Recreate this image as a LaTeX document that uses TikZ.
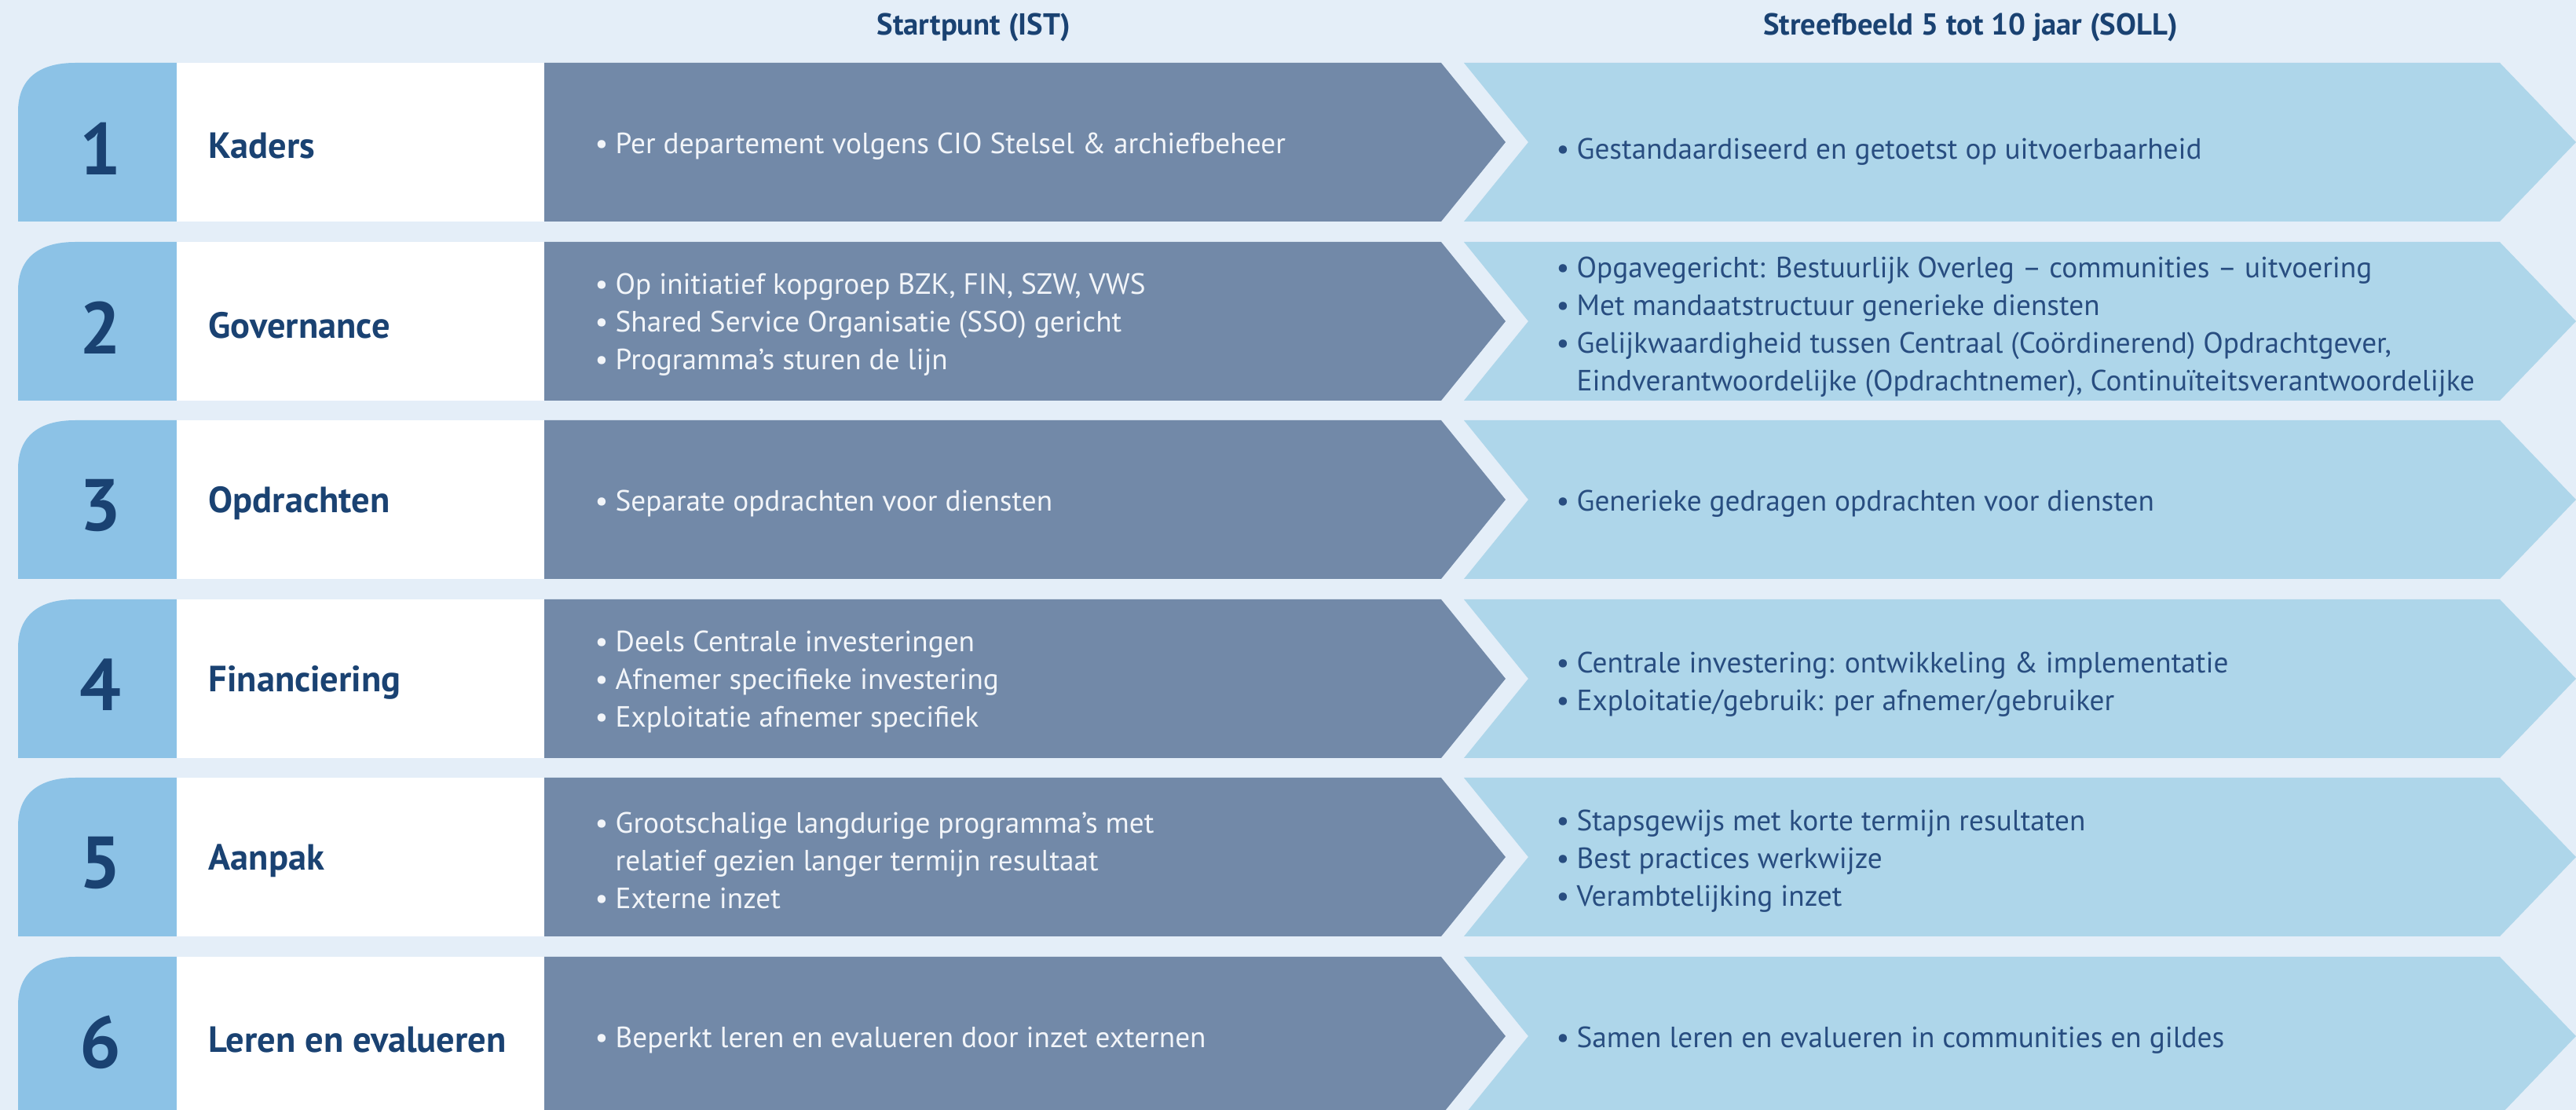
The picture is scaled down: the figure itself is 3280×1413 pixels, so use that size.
\documentclass[tikz,border=0pt]{standalone}
\usepackage{fontspec}
\setmainfont{PT Sans}
\definecolor{pagebg}{HTML}{E4EEF8}
\definecolor{tabblue}{HTML}{8CC2E6}
\definecolor{istblue}{HTML}{7289A8}
\definecolor{sollblue}{HTML}{AED6EA}
\definecolor{navytext}{HTML}{1A4272}
\definecolor{solltxt}{HTML}{284D80}
\definecolor{isttxt}{HTML}{F2F5F9}
\newcommand{\bul}{\makebox[0.26cm][l]{\textbullet}}
\newcommand{\nobul}{\hspace*{0.26cm}}

\begin{document}
\begin{tikzpicture}[x=0.01cm,y=-0.01cm,
    numtext/.style={font=\bfseries\fontsize{26.5}{30}\selectfont,text=navytext},
    labeltext/.style={anchor=west,inner sep=0pt,font=\bfseries\fontsize{13.2}{16}\selectfont,text=navytext},
    isttext/.style={anchor=west,align=left,inner sep=0pt,font=\fontsize{10.6}{13.66}\selectfont,text=isttxt},
    solltext/.style={anchor=west,align=left,inner sep=0pt,font=\fontsize{10.6}{13.66}\selectfont,text=solltxt},
    headtext/.style={font=\bfseries\fontsize{11}{13}\selectfont,text=navytext}]
                \useasboundingbox (0,0) rectangle (3280,1413);
                \clip (0,0) rectangle (3280,1413);
                \fill[pagebg] (0,0) rectangle (3280,1413);

                \node[headtext] (ist) at (1240,35) {Startpunt (IST)};
                \node[headtext] (soll) at (2509,35) {Streefbeeld 5 tot 10 jaar (SOLL)};

                % rij 1
                \fill[tabblue] (23,282) -- (23,142) .. controls (23,100) and (50,80) .. (96,80) -- (225,80) -- (225,282) -- cycle;
                \fill[white] (225,80) rectangle (693,282);
                \fill[istblue] (693,80) -- (1835,80) -- (1917,181) -- (1835,282) -- (693,282) -- cycle;
                \fill[sollblue] (1864,80) -- (3183,80) -- (3280,181) -- (3183,282) -- (1864,282) -- (1946,181) -- cycle;

                % rij 2
                \fill[tabblue] (23,510) -- (23,370) .. controls (23,328) and (50,308) .. (96,308) -- (225,308) -- (225,510) -- cycle;
                \fill[white] (225,308) rectangle (693,510);
                \fill[istblue] (693,308) -- (1835,308) -- (1917,409) -- (1835,510) -- (693,510) -- cycle;
                \fill[sollblue] (1864,308) -- (3183,308) -- (3280,409) -- (3183,510) -- (1864,510) -- (1946,409) -- cycle;

                % rij 3
                \fill[tabblue] (23,737) -- (23,597) .. controls (23,555) and (50,535) .. (96,535) -- (225,535) -- (225,737) -- cycle;
                \fill[white] (225,535) rectangle (693,737);
                \fill[istblue] (693,535) -- (1835,535) -- (1917,636) -- (1835,737) -- (693,737) -- cycle;
                \fill[sollblue] (1864,535) -- (3183,535) -- (3280,636) -- (3183,737) -- (1864,737) -- (1946,636) -- cycle;

                % rij 4
                \fill[tabblue] (23,965) -- (23,825) .. controls (23,783) and (50,763) .. (96,763) -- (225,763) -- (225,965) -- cycle;
                \fill[white] (225,763) rectangle (693,965);
                \fill[istblue] (693,763) -- (1835,763) -- (1917,864) -- (1835,965) -- (693,965) -- cycle;
                \fill[sollblue] (1864,763) -- (3183,763) -- (3280,864) -- (3183,965) -- (1864,965) -- (1946,864) -- cycle;

                % rij 5
                \fill[tabblue] (23,1192) -- (23,1052) .. controls (23,1010) and (50,990) .. (96,990) -- (225,990) -- (225,1192) -- cycle;
                \fill[white] (225,990) rectangle (693,1192);
                \fill[istblue] (693,990) -- (1835,990) -- (1917,1091) -- (1835,1192) -- (693,1192) -- cycle;
                \fill[sollblue] (1864,990) -- (3183,990) -- (3280,1091) -- (3183,1192) -- (1864,1192) -- (1946,1091) -- cycle;

                % rij 6
                \fill[tabblue] (23,1420) -- (23,1280) .. controls (23,1238) and (50,1218) .. (96,1218) -- (225,1218) -- (225,1420) -- cycle;
                \fill[white] (225,1218) rectangle (693,1420);
                \fill[istblue] (693,1218) -- (1835,1218) -- (1917,1319) -- (1835,1420) -- (693,1420) -- cycle;
                \fill[sollblue] (1864,1218) -- (3183,1218) -- (3280,1319) -- (3183,1420) -- (1864,1420) -- (1946,1319) -- cycle;

                \node[numtext] (num1) at (128,189) {1};
                \node[numtext] (num2) at (128,417) {2};
                \node[numtext] (num3) at (128,644) {3};
                \node[numtext] (num4) at (128,872) {4};
                \node[numtext] (num5) at (128,1099) {5};
                \node[numtext] (num6) at (128,1327) {6};

                \node[labeltext] (lbl1) at (265,186) {Kaders};
                \node[labeltext] (lbl2) at (265,414) {Governance};
                \node[labeltext] (lbl3) at (265,641) {Opdrachten};
                \node[labeltext] (lbl4) at (265,869) {Financiering};
                \node[labeltext] (lbl5) at (265,1096) {Aanpak};
                \node[labeltext] (lbl6) at (265,1324) {Leren en evalueren};

                \node[isttext] (ist1) at (757,186) {\bul Per departement volgens CIO Stelsel \& archiefbeheer};
                \node[isttext] (ist2) at (757,413) {\bul Op initiatief kopgroep BZK, FIN, SZW, VWS\\
                    \bul Shared Service Organisatie (SSO) gericht\\
                    \bul Programma’s sturen de lijn};
                \node[isttext] (ist3) at (757,641) {\bul Separate opdrachten voor diensten};
                \node[isttext] (ist4) at (757,868) {\bul Deels Centrale investeringen\\
                    \bul Afnemer specifieke investering\\
                    \bul Exploitatie afnemer specifiek};
                \node[isttext] (ist5) at (757,1095) {\bul Grootschalige langdurige programma’s met\\
                    \nobul relatief gezien langer termijn resultaat\\
                    \bul Externe inzet};
                \node[isttext] (ist6) at (757,1324) {\bul Beperkt leren en evalueren door inzet externen};

                \node[solltext] (soll1) at (1981,193) {\bul Gestandaardiseerd en getoetst op uitvoerbaarheid};
                \node[solltext] (soll2) at (1981,416) {\bul Opgavegericht: Bestuurlijk Overleg – communities – uitvoering\\
                    \bul Met mandaatstructuur generieke diensten\\
                    \bul Gelijkwaardigheid tussen Centraal (Coördinerend) Opdrachtgever,\\
                    \nobul Eindverantwoordelijke (Opdrachtnemer), Continuïteitsverantwoordelijke};
                \node[solltext] (soll3) at (1981,641) {\bul Generieke gedragen opdrachten voor diensten};
                \node[solltext] (soll4) at (1981,871) {\bul Centrale investering: ontwikkeling \& implementatie\\
                    \bul Exploitatie/gebruik: per afnemer/gebruiker};
                \node[solltext] (soll5) at (1981,1096) {\bul Stapsgewijs met korte termijn resultaten\\
                    \bul Best practices werkwijze\\
                    \bul Verambtelijking inzet};
                \node[solltext] (soll6) at (1981,1324) {\bul Samen leren en evalueren in communities en gildes};
            \end{tikzpicture}
\end{document}
